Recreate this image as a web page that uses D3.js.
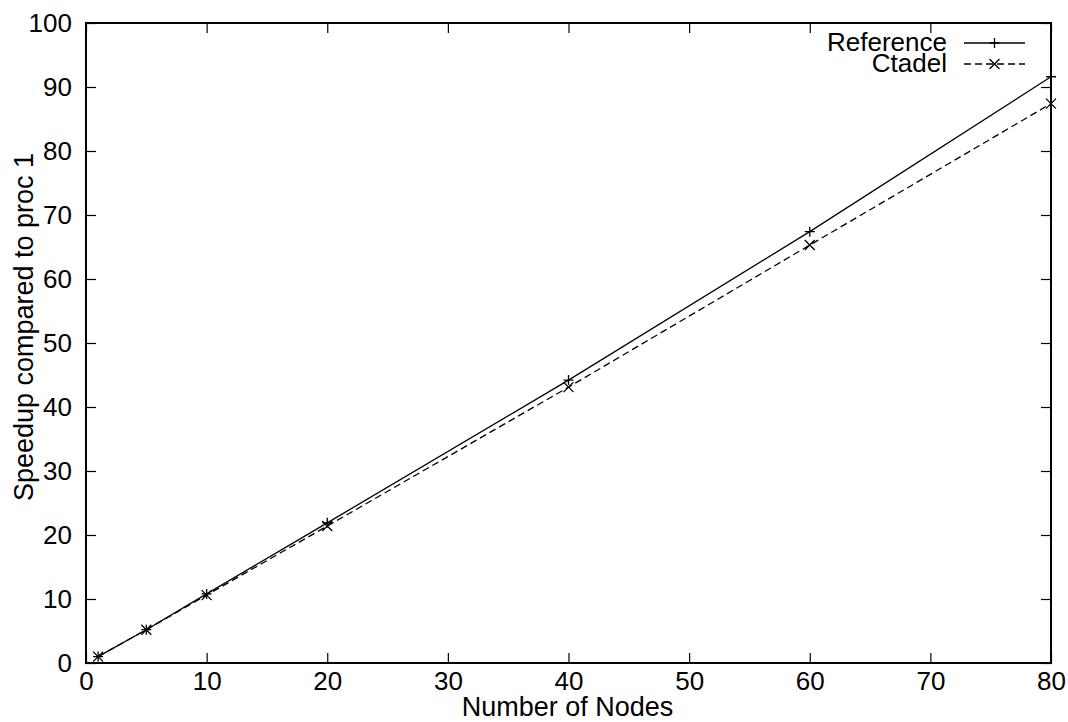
<!DOCTYPE html>
<html>
<head>
<meta charset="utf-8">
<script src="https://cdn.jsdelivr.net/npm/d3@7"></script>
<style>
  html, body { margin: 0; padding: 0; background: #fff; }
  svg { display: block; }
  text { font-family: "Liberation Sans", Arial, Helvetica, sans-serif; fill: #000; }
</style>
</head>
<body>
<svg id="chart" width="1068" height="722"></svg>
<script>
// Speedup measurements per node count
const nodes = [1, 5, 10, 20, 40, 60, 80];
const referenceSpeedup = [1.0, 5.2, 10.8, 21.9, 44.2, 67.4, 91.6];
const ctadelSpeedup = [1.0, 5.2, 10.6, 21.4, 43.1, 65.3, 87.4];

const xTicks = [0, 10, 20, 30, 40, 50, 60, 70, 80];
const yTicks = [0, 10, 20, 30, 40, 50, 60, 70, 80, 90, 100];

const seriesNames = ["Reference", "Ctadel"];
const xTitle = "Number of Nodes";
const yTitle = "Speedup compared to proc 1";

const margin = { left: 86, right: 1051, top: 23, bottom: 663 };
const svg = d3.select("#chart");

const x = d3.scaleLinear().domain([0, 80]).range([margin.left, margin.right]);
const y = d3.scaleLinear().domain([0, 100]).range([margin.bottom, margin.top]);

const fontSize = 26;
const titleSize = 27;
const tickLen = 10;

// Axes with inward ticks on all four sides
const axisBottom = d3.axisBottom(x).tickValues(xTicks).tickSizeInner(-tickLen).tickSizeOuter(0).tickPadding(9);
const axisLeft = d3.axisLeft(y).tickValues(yTicks).tickSizeInner(-tickLen).tickSizeOuter(0).tickPadding(14);
const axisTop = d3.axisTop(x).tickValues(xTicks).tickSizeInner(-tickLen).tickSizeOuter(0).tickFormat("");
const axisRight = d3.axisRight(y).tickValues(yTicks).tickSizeInner(-tickLen).tickSizeOuter(0).tickFormat("");

function styleAxis(g) {
  g.select(".domain").remove();
  g.selectAll(".tick line").attr("stroke", "#000").attr("stroke-width", 1.2);
  g.selectAll(".tick text").attr("font-size", fontSize)
    .attr("font-family", "Liberation Sans, Arial, sans-serif").attr("fill", "#000");
}

svg.append("g").attr("transform", `translate(0,${margin.bottom})`).call(axisBottom).call(styleAxis);
svg.append("g").attr("transform", `translate(${margin.left},0)`).call(axisLeft).call(styleAxis);
svg.append("g").attr("transform", `translate(0,${margin.top})`).call(axisTop).call(styleAxis);
svg.append("g").attr("transform", `translate(${margin.right},0)`).call(axisRight).call(styleAxis);

// Plot frame
svg.append("rect")
  .attr("x", margin.left).attr("y", margin.top)
  .attr("width", margin.right - margin.left).attr("height", margin.bottom - margin.top)
  .attr("fill", "none").attr("stroke", "#000").attr("stroke-width", 2);

// Axis titles
svg.append("text")
  .attr("x", 567.5).attr("y", 716)
  .attr("text-anchor", "middle").attr("font-size", titleSize)
  .text(xTitle);

svg.append("text")
  .attr("transform", `translate(33,327) rotate(-90)`)
  .attr("text-anchor", "middle").attr("font-size", titleSize)
  .text(yTitle);

// Data series
const line = d3.line().x(d => x(d[0])).y(d => y(d[1]));
const refData = nodes.map((n, i) => [n, referenceSpeedup[i]]);
const ctaData = nodes.map((n, i) => [n, ctadelSpeedup[i]]);

const dash = "7,4";
const lw = 1.3;
const ms = 5;

function plusMark(g, cx, cy) {
  g.append("path")
    .attr("d", `M${cx - ms},${cy}H${cx + ms}M${cx},${cy - ms}V${cy + ms}`)
    .attr("stroke", "#000").attr("stroke-width", 1.3).attr("fill", "none");
}
function crossMark(g, cx, cy) {
  g.append("path")
    .attr("d", `M${cx - ms},${cy - ms}L${cx + ms},${cy + ms}M${cx - ms},${cy + ms}L${cx + ms},${cy - ms}`)
    .attr("stroke", "#000").attr("stroke-width", 1.3).attr("fill", "none");
}

svg.append("path").datum(refData).attr("d", line)
  .attr("fill", "none").attr("stroke", "#000").attr("stroke-width", lw);
svg.append("path").datum(ctaData).attr("d", line)
  .attr("fill", "none").attr("stroke", "#000").attr("stroke-width", lw)
  .attr("stroke-dasharray", dash);

const marks = svg.append("g");
refData.forEach(d => plusMark(marks, x(d[0]), y(d[1])));
ctaData.forEach(d => crossMark(marks, x(d[0]), y(d[1])));

// Legend
const legend = svg.append("g");
const legX0 = 964, legX1 = 1025, legText = 947;
const legY = [43, 64];
seriesNames.forEach((name, i) => {
  legend.append("text")
    .attr("x", legText).attr("y", legY[i] + 8)
    .attr("text-anchor", "end").attr("font-size", fontSize)
    .text(name);
  const l = legend.append("line")
    .attr("x1", legX0).attr("x2", legX1).attr("y1", legY[i]).attr("y2", legY[i])
    .attr("stroke", "#000").attr("stroke-width", lw);
  if (i === 1) l.attr("stroke-dasharray", dash);
  const mx = (legX0 + legX1) / 2;
  if (i === 0) plusMark(legend, mx, legY[i]); else crossMark(legend, mx, legY[i]);
});
</script>
</body>
</html>
